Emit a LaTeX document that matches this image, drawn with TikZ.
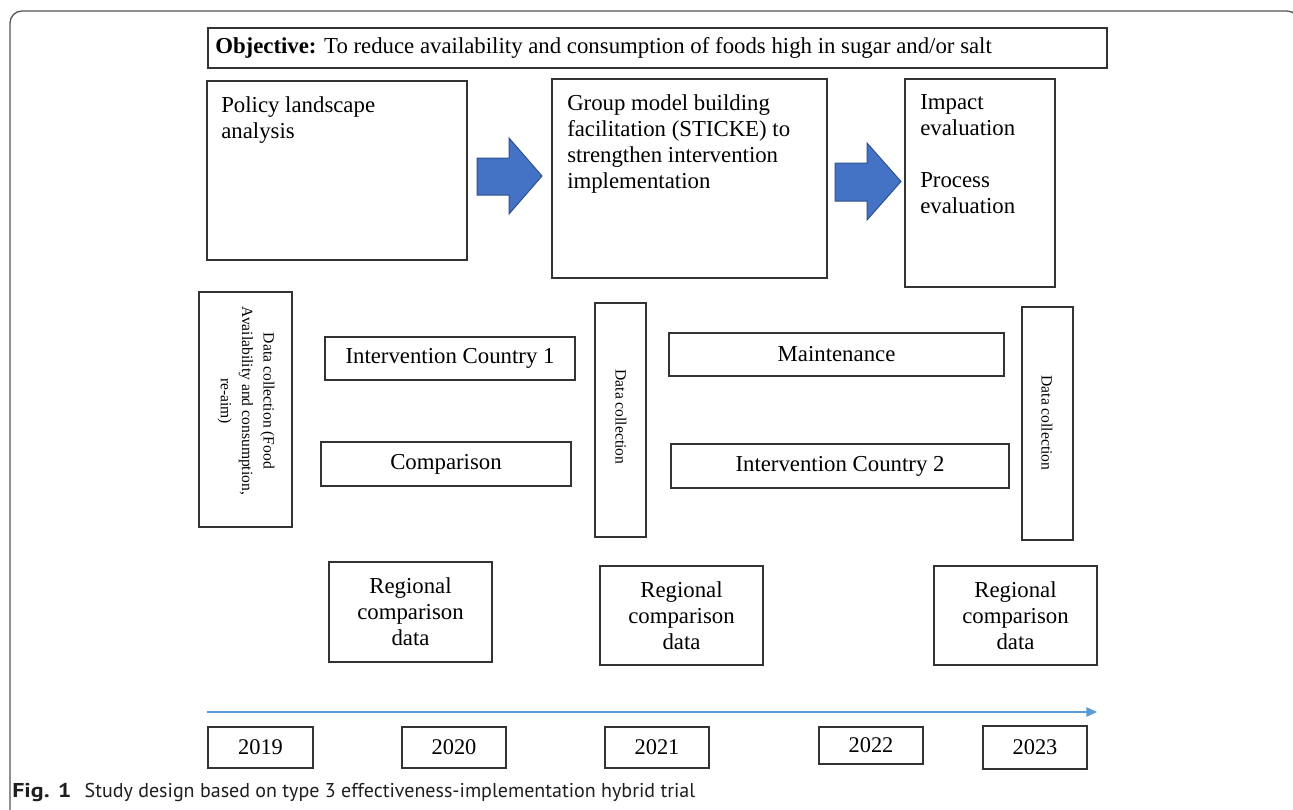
\documentclass[tikz,border=0pt]{standalone}
\usepackage{fontspec}
\setmainfont{Liberation Serif}
\newfontfamily\capfont{PT Sans}
\usetikzlibrary{arrows.meta}
\definecolor{boxline}{HTML}{333333}
\definecolor{arrowfill}{HTML}{4472C4}
\definecolor{arrowline}{HTML}{2F528F}
\definecolor{timeline}{HTML}{5B9BD5}
\definecolor{framecol}{HTML}{555555}
\tikzset{
  box/.style={draw=boxline, line width=1pt, inner sep=0pt},
  big/.style={font=\fontsize{17.1}{19.5}\selectfont},
  yearfont/.style={font=\fontsize{16.8}{19}\selectfont},
  small/.style={font=\fontsize{11.7}{16}\selectfont},
  toptext/.style={big, align=left, anchor=north west, inner sep=0pt},
  vtext/.style={small, align=center, rotate=-90, inner sep=0pt},
  blockarrow/.style={fill=arrowfill, draw=arrowline, line width=0.75pt},
}
% #1 options, #2 name, #3 x1, #4 y1, #5 x2, #6 y2, #7 text
\newcommand{\pxbox}[7]{%
  \pgfmathsetmacro\bxw{(#5-#3)*0.75}%
  \pgfmathsetmacro\bxh{(#6-#4)*0.75}%
  \node[box, #1, minimum width=\bxw pt, minimum height=\bxh pt] (#2) at ({(#3+#5)/2},{(#4+#6)/2}) {#7};%
}
\begin{document}
\begin{tikzpicture}[x=0.75pt,y=-0.75pt]
\useasboundingbox (0,0) rectangle (1293,810);
\fill[white] (0,0) rectangle (1293,810);
\draw[framecol, line width=1pt, rounded corners=9pt] (10,840) -- (10,11) -- (1299,11) -- (1299,840);

% objective
\pxbox{}{obj}{208}{28}{1107}{68}{}
\node[big, anchor=west, inner sep=0pt] (objt) at (215,48) {\textbf{Objective:} To reduce availability and consumption of foods high in sugar and/or salt};

% top boxes
\pxbox{}{pol}{207}{81}{467}{260}{}
\node[toptext] (polt) at (221,96) {Policy landscape\\analysis};
\pxbox{}{gmb}{552}{79}{827}{278}{}
\node[toptext] (gmbt) at (567,94) {Group model building\\facilitation (STICKE) to\\strengthen intervention\\implementation};
\pxbox{}{imp}{905}{79}{1055}{287}{}
\node[toptext] (impt) at (920,94) {Impact\\evaluation\\[19.5pt]Process\\evaluation};

% block arrows
\draw[blockarrow] (477,158) -- (509,158) -- (509,138) -- (542,176) -- (509,214) -- (509,195) -- (477,195) -- cycle;
\draw[blockarrow] (835,163) -- (867,163) -- (867,143) -- (901,181.5) -- (867,220) -- (867,201) -- (835,201) -- cycle;

% data collection boxes
\pxbox{}{dc1}{199}{292}{292}{527}{}
\node[vtext] (dc1t) at (246,401) {Data collection (Food\\Availability and consumption,\\re-aim)};
\pxbox{}{dc2}{595}{303}{646}{537}{}
\node[vtext] (dc2t) at (621,417) {Data collection};
\pxbox{}{dc3}{1022}{307}{1073}{540}{}
\node[vtext] (dc3t) at (1047,423) {Data collection};

% middle boxes
\pxbox{big}{ic1}{325}{337}{575}{380}{Intervention Country 1}
\pxbox{big}{cmp}{321}{442}{571}{486}{Comparison}
\pxbox{big}{mnt}{669}{333}{1004}{376}{Maintenance}
\pxbox{big}{ic2}{671}{444}{1009}{488}{Intervention Country 2}

% regional comparison
\pxbox{big, align=center}{rc1}{329}{562}{492}{662}{Regional\\comparison\\data}
\pxbox{big, align=center}{rc2}{600}{566}{763}{665}{Regional\\comparison\\data}
\pxbox{big, align=center}{rc3}{934}{566}{1097}{665}{Regional\\comparison\\data}

% timeline
\coordinate (t0) at (207,712);
\coordinate (t1) at (1097,712);
\draw[timeline, line width=1.1pt, -{Triangle[length=8pt,width=7pt]}] (t0) -- (t1);

% years
\pxbox{yearfont}{y19}{208}{727}{313}{768}{2019}
\pxbox{yearfont}{y20}{402}{727}{506}{768}{2020}
\pxbox{yearfont}{y21}{605}{727}{709}{768}{2021}
\pxbox{yearfont}{y22}{819}{727}{923}{764}{2022}
\pxbox{yearfont}{y23}{983}{726}{1087}{769}{2023}

% caption
\node[anchor=base west, inner sep=0pt, font=\capfont\fontsize{15}{17}\selectfont, text=black!88] (cap) at (12,797) {\scalebox{1.2}[1]{\textbf{Fig. 1}}\hspace{10pt}Study design based on type 3 effectiveness-implementation hybrid trial};
\end{tikzpicture}
\end{document}
